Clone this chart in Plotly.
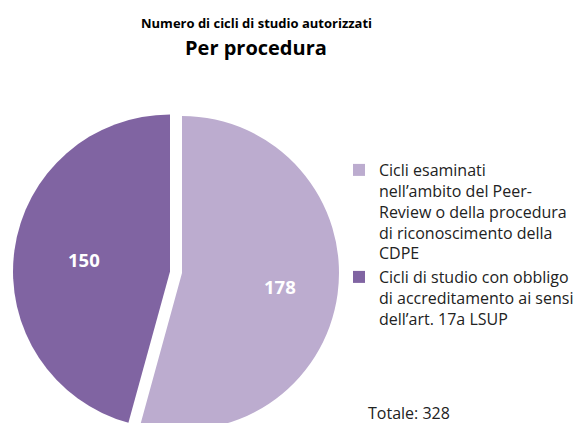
import math
import plotly.graph_objects as go

# Data
categories = [
    "Cicli esaminati<br>nell’ambito del Peer-<br>Review o della procedura<br>di riconoscimento della<br>CDPE",
    "Cicli di studio con obbligo<br>di accreditamento ai sensi<br>dell’art. 17a LSUP",
]
values = [178, 150]
colors = ["#BCACCF", "#8064A2"]
pulls = [0, 0.077]

title_small = "Numero di cicli di studio autorizzati"
title_big = "Per procedura"
total_label = "Totale: " + str(sum(values))

# Figure geometry (page body adds an 8px margin)
W, H = 574, 450
FONT = "'Open Sans', sans-serif"

PIE_CX, PIE_CY, PIE_R = 174.0, 265.0, 157.0
max_pull = max(pulls)
ry = PIE_R * (1 + max_pull)
dom_x = [(PIE_CX - ry) / W, (PIE_CX + ry) / W]
dom_y = [(H - (PIE_CY + ry)) / H, (H - (PIE_CY - ry)) / H]

fig = go.Figure(
    go.Pie(
        labels=categories,
        values=values,
        marker=dict(colors=colors, line=dict(width=0)),
        pull=pulls,
        sort=False,
        direction="clockwise",
        rotation=0,
        textinfo="none",
        hoverinfo="label+value",
        domain=dict(x=dom_x, y=dom_y),
        showlegend=True,
    )
)

# Value labels placed along each slice's mid-angle
LABEL_FRAC = 0.63
total = sum(values)
annotations = []
cum = 0
for v in values:
    mid = (cum + v / 2) / total * 2 * math.pi  # clockwise from 12 o'clock
    cum += v
    dx, dy = math.sin(mid), -math.cos(mid)
    d = PIE_R * LABEL_FRAC
    px, py = PIE_CX + d * dx, PIE_CY + d * dy
    annotations.append(dict(
        text="<b>" + str(v) + "</b>",
        x=px / W, y=1 - py / H, xref="paper", yref="paper",
        xanchor="center", yanchor="middle", showarrow=False,
        font=dict(family=FONT, size=18.5, color="white"),
    ))

annotations += [
    dict(
        text="<b>" + title_small + "</b>",
        x=248 / W, y=1 - 15 / H, xref="paper", yref="paper",
        xanchor="center", yanchor="middle", showarrow=False,
        font=dict(family=FONT, size=13, color="#000000"),
    ),
    dict(
        text="<b>" + title_big + "</b>",
        x=248 / W, y=1 - 39 / H, xref="paper", yref="paper",
        xanchor="center", yanchor="middle", showarrow=False,
        font=dict(family=FONT, size=20, color="#000000"),
    ),
    dict(
        text=total_label,
        x=358 / W, y=1 - 405 / H, xref="paper", yref="paper",
        xanchor="left", yanchor="middle", showarrow=False,
        font=dict(family=FONT, size=16, color="#222222"),
    ),
]

fig.update_layout(
    width=W,
    height=H,
    margin=dict(l=0, r=0, t=0, b=0),
    paper_bgcolor="white",
    plot_bgcolor="white",
    font=dict(family=FONT, size=16, color="#222222"),
    legend=dict(
        x=331 / W,
        y=1 - 145 / H,
        xanchor="left",
        yanchor="top",
        valign="top",
        font=dict(family=FONT, size=16, color="#222222"),
        itemwidth=30,
    ),
    annotations=annotations,
)

fig.write_html("out.html")
